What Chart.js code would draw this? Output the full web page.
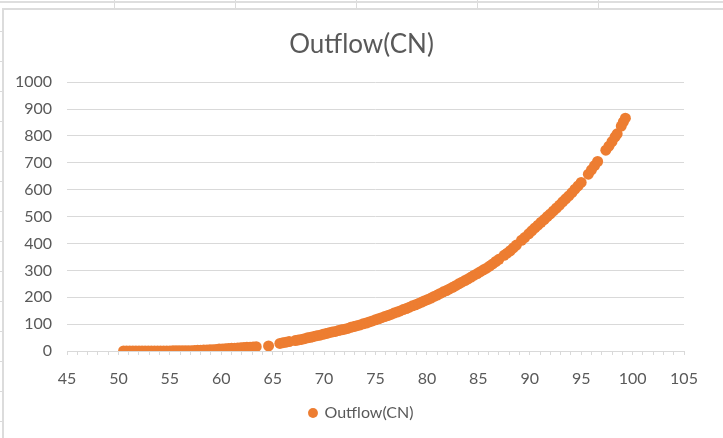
<!DOCTYPE html>
<html>
<head>
<meta charset="utf-8">
<script src="https://cdn.jsdelivr.net/npm/chart.js@4"></script>
<style>
  html, body { margin: 0; padding: 0; background: #fff; }
  body { width: 723px; height: 438px; position: relative; overflow: hidden; }
  /* spreadsheet cells behind the chart */
  .sheet {
    position: absolute; left: 0; top: 0; width: 723px; height: 438px;
    background-image:
      repeating-linear-gradient(to right, transparent 0, transparent 120px, #dadada 120px, #dadada 121px),
      repeating-linear-gradient(to bottom, transparent 0, transparent 29px, #dadada 29px, #dadada 30px);
    background-position: -6px 0, 0 2px;
  }
  .topline { position: absolute; left: 0; top: 1px; width: 723px; height: 2px; background: #dedede; }
  .box {
    position: absolute; left: 2px; top: 8px; width: 730px; height: 440px;
    background: #fff; border-left: 2px solid #dcdcdc; border-top: 2px solid #dcdcdc;
  }
  .wrap { position: absolute; left: 0; top: 0; width: 723px; height: 438px; }
</style>
</head>
<body>
<div class="sheet"></div>
<div class="topline"></div>
<div class="box"></div>
<div class="wrap"><canvas id="myChart"></canvas></div>
<script>
// CN values and outflow
var cn = [50.5,50.8,51.1,51.4,51.7,52.0,52.3,52.6,52.9,53.2,53.5,53.8,54.1,
  54.4,54.7,55.0,55.3,55.6,55.9,56.2,56.5,56.8,57.1,57.4,57.7,58.0,58.3,58.6,58.9,59.2,59.5,59.8,
  60.1,60.4,60.7,61.0,61.3,61.6,61.9,62.2,62.5,62.8,63.1,63.4,
  64.6,
  65.7,66.0,66.3,66.6,
  67.2,67.5,67.8,68.1,68.4,68.7,69.0,69.3,69.6,69.9,
  70.2,70.5,70.8,71.1,71.4,71.7,72.0,72.3,72.6,72.9,73.2,73.5,73.8,
  74.1,74.4,74.7,75.0,75.3,75.6,75.9,76.2,76.5,76.8,77.1,77.4,77.7,78.0,
  78.3,78.6,78.9,79.2,79.5,79.8,80.1,80.4,80.7,81.0,81.3,81.6,81.9,
  82.2,82.5,82.8,83.1,83.4,83.7,84.0,84.3,84.6,84.9,85.2,85.5,85.8,
  86.1,86.4,86.7,87.0,
  87.5,87.8,88.1,88.4,88.7,
  89.2,89.5,
  89.9,90.2,90.5,90.8,91.1,91.4,91.7,92.0,92.3,92.6,92.9,93.2,93.5,93.8,94.1,94.4,94.7,95.0,
  95.7,96.0,96.3,96.6,
  97.4,97.7,98.0,98.3,98.5,
  98.9,99.1,99.3];
var outflow = [0,0,0,0,0,0,0,0,0,0,0,0,0,
  0,0,0,1,1,1,1,1,1,1,2,3,3,4,4,5,5,6,7,
  7,8,9,10,10,11,12,13,14,14,15,16,
  19,
  28,31,33,35,
  39,41,43,46,49,51,54,57,59,62,
  65,68,71,73,76,79,81,84,88,91,94,97,101,
  104,108,112,116,120,124,128,132,136,141,145,149,154,158,
  163,168,172,177,182,187,192,197,203,208,214,220,225,
  231,237,243,250,256,262,268,275,282,288,295,302,308,
  316,324,333,341,
  356,364,373,384,394,
  412,422,
  436,447,458,468,479,489,500,510,521,532,543,555,566,577,589,602,614,627,
  658,674,690,705,
  747,762,779,797,808,
  837,852,866];
var xTicks = [45,50,55,60,65,70,75,80,85,90,95,100,105];
var yTicks = [0,100,200,300,400,500,600,700,800,900,1000];

var points = cn.map(function (v, i) { return { x: v, y: outflow[i] }; });

var grey = '#595959';
var lineGrey = '#d9d9d9';
var fam = 'Lato, "Liberation Sans", sans-serif';

var myChart = new Chart(document.getElementById('myChart'), {
  type: 'scatter',
  data: {
    datasets: [{
      label: 'Outflow(CN)',
      data: points,
      backgroundColor: '#ED7D31',
      borderColor: '#ED7D31',
      borderWidth: 0,
      pointRadius: 5.5,
      pointHoverRadius: 5.5
    }]
  },
  options: {
    responsive: true,
    maintainAspectRatio: false,
    animation: false,
    layout: { padding: { left: 0, right: 0, top: 0, bottom: 7 } },
    plugins: {
      title: {
        display: true,
        text: 'Outflow(CN)',
        color: grey,
        font: { family: fam, size: 26, weight: 'normal' },
        padding: { top: 29, bottom: 22 }
      },
      legend: {
        position: 'bottom',
        labels: {
          color: grey,
          usePointStyle: true,
          pointStyle: 'circle',
          boxWidth: 7,
          boxHeight: 7,
          padding: 10,
          font: { family: fam, size: 16 }
        }
      },
      tooltip: { enabled: false }
    },
    scales: {
      x: {
        type: 'linear',
        min: 45,
        max: 105,
        afterFit: function (s) { s.height = 44; },
        afterBuildTicks: function (s) {
          var t = [];
          for (var v = 45; v <= 105; v++) t.push({ value: v });
          s.ticks = t;
        },
        border: { color: lineGrey, width: 1 },
        grid: { drawOnChartArea: false, drawTicks: true, tickLength: 4, color: lineGrey },
        ticks: {
          autoSkip: false,
          maxRotation: 0,
          padding: 14,
          color: grey,
          font: { family: fam, size: 16 },
          callback: function (v) { return xTicks.indexOf(v) >= 0 ? String(v) : ''; }
        }
      },
      y: {
        type: 'linear',
        min: 0,
        max: 1000,
        afterFit: function (s) { s.width = 67; },
        afterBuildTicks: function (s) { s.ticks = yTicks.map(function (v) { return { value: v }; }); },
        border: { display: false },
        grid: { color: lineGrey, drawTicks: false },
        ticks: {
          padding: 15,
          color: grey,
          font: { family: fam, size: 16 },
          callback: function (v) { return String(v); }
        }
      },
      // empty right-hand space so the plot ends at 105 while title/legend stay centred on the page
      yRight: {
        type: 'linear',
        position: 'right',
        min: 0,
        max: 1000,
        afterFit: function (s) { s.width = 39; },
        border: { display: false },
        grid: { display: false },
        ticks: { display: false }
      }
    }
  }
});
</script>
</body>
</html>
